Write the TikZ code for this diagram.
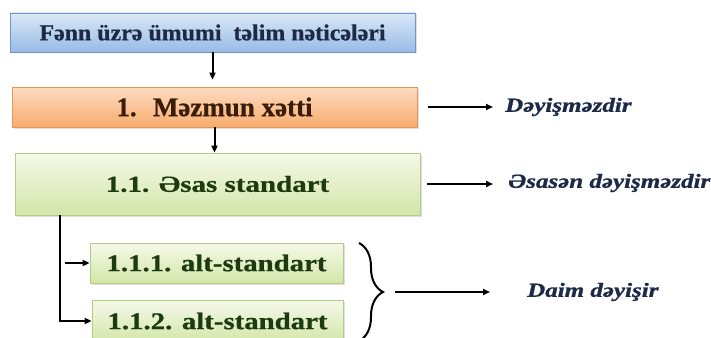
\documentclass[tikz,border=0pt]{standalone}
\usepackage{graphicx}
\usepackage{fontspec}
\setmainfont{Liberation Serif}[BoldFeatures={FakeBold=0.6}]
\newfontfamily\rtfont{Liberation Serif Bold Italic}[FakeBold=1]
\usetikzlibrary{arrows.meta,shadows,decorations.pathreplacing}
\definecolor{bluetop}{HTML}{DCE8F7}
\definecolor{bluebot}{HTML}{97BBE6}
\definecolor{blueedge}{HTML}{6F96C8}
\definecolor{orgtop}{HTML}{FCDCC2}
\definecolor{orgbot}{HTML}{F8AC6E}
\definecolor{orgedge}{HTML}{E3975A}
\definecolor{grntop}{HTML}{F5F9E9}
\definecolor{grnbot}{HTML}{D3E6A9}
\definecolor{grnedge}{HTML}{B3CB86}
\definecolor{navytxt}{HTML}{1C2A48}
\definecolor{browntxt}{HTML}{3A1D08}
\definecolor{greentxt}{HTML}{1D3A10}
\newcommand{\sx}[2]{\scalebox{#1}[1]{#2}}
\begin{document}
\begin{tikzpicture}[x=1pt,y=-1pt,
  box/.style={draw, line width=0.8pt, inner sep=0pt, font=\bfseries,
    drop shadow={opacity=0.25, shadow xshift=1.5pt, shadow yshift=-1.5pt}},
  bluebox/.style={box, draw=blueedge, top color=bluetop, bottom color=bluebot, text=navytxt},
  orgbox/.style={box, draw=orgedge, top color=orgtop, bottom color=orgbot, text=browntxt},
  grnbox/.style={box, draw=grnedge, top color=grntop, bottom color=grnbot, text=greentxt},
  rt/.style={inner sep=0pt, text=navytxt, font=\rtfont\fontsize{20}{23}\selectfont},
  arr/.style={line width=2pt, -{Triangle[length=7pt,width=6pt]}},
  brc/.style={line width=2pt, decorate, decoration={brace, amplitude=24pt}}
]
\useasboundingbox[fill=white] (0,0) rectangle (711,337);

\node[bluebox, minimum width=405pt, minimum height=39pt] (b1) at (212.5,32.5)
  {\fontsize{23}{26}\selectfont\sx{1.04}{Fənn üzrə ümumi\ \ təlim nəticələri}};
\node[orgbox, minimum width=405pt, minimum height=40pt] (b2) at (214.5,107)
  {\fontsize{27}{30}\selectfont 1.\hspace{0.6em}Məzmun xətti};
\node[grnbox, minimum width=405pt, minimum height=62pt] (b3) at (217.5,184)
  {\fontsize{23}{26}\selectfont\sx{1.26}{1.1. Əsas standart}};
\node[grnbox, minimum width=253pt, minimum height=40pt] (b111) at (216.5,263)
  {\fontsize{24}{27}\selectfont\sx{1.2}{1.1.1. alt-standart}};
\node[grnbox, minimum width=251pt, minimum height=42pt] (b112) at (217.5,321)
  {\fontsize{24}{27}\selectfont\sx{1.2}{1.1.2. alt-standart}};

\node[rt, anchor=west] (t1) at (505,107) {\sx{1.25}{Dəyişməzdir}};
\node[rt, anchor=west] (t2) at (508,183) {\sx{1.25}{Əsasən dəyişməzdir}};
\node[rt, anchor=west] (t3) at (527,292) {\sx{1.25}{Daim dəyişir}};

\draw[arr, shorten >=7pt] (b1.south) -- (b1.south |- b2.north);
\draw[arr] (b2.south) -- (b2.south |- b3.north);

\coordinate (v) at (60,0);
\draw[arr] (b3.south -| v) |- (b112.west);
\draw[arr] ([xshift=5pt]v |- b111.west) -- (b111.west);

\draw[brc] (359,243) -- (359,341);
\coordinate (bt) at (383,292);

\draw[arr] ([xshift=11pt]b2.east) -- ([xshift=-12pt]t1.west);
\draw[arr] ([xshift=7pt]b3.east) -- ([xshift=-15pt]b3.east -| t2.west);
\draw[arr] ([xshift=12pt]bt) -- ([xshift=-37pt]bt -| t3.west);
\end{tikzpicture}
\end{document}
